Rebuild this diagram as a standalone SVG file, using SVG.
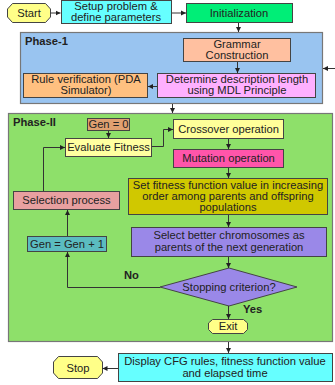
<svg xmlns="http://www.w3.org/2000/svg" width="335" height="385" viewBox="0 0 335 385">
<style>
text{font-family:"Liberation Sans",Arial,sans-serif;font-size:11.2px;fill:#222;text-anchor:middle}
.b{font-weight:bold;text-anchor:start}
.n{stroke:#444;stroke-width:1}
.ph{stroke:#777;stroke-width:1.2}
.c{fill:none;stroke:#333;stroke-width:1}
</style>
<defs>
<marker id="a" markerWidth="6" markerHeight="6" refX="5" refY="3" orient="auto" markerUnits="userSpaceOnUse">
<path d="M0,0.5 L5,3 L0,5.5 Z" fill="#222"/>
</marker>
</defs>
<rect width="335" height="385" fill="#fff"/>
<g id="phase1"><rect class="ph" x="20.5" y="32.5" width="302" height="71" fill="#99c4f0"/><text class="b" x="25" y="45">Phase-1</text></g>
<g id="phase2"><rect class="ph" x="8.5" y="113.5" width="324" height="228" fill="#8ee06a"/><text class="b" x="13" y="126">Phase-II</text></g>
<g id="start"><path class="n" d="M12.5,3.5 H45.5 L50.5,9 V17 L45.5,22.5 H12.5 L7.5,17 V9 Z" fill="#ffff88"/><text x="29" y="17">Start</text></g>
<g id="setup"><rect class="n" x="61.5" y="0.5" width="110" height="23" fill="#66ffff"/><text x="116" y="10">Setup problem &amp;</text><text x="116" y="21">define parameters</text></g>
<g id="init"><rect class="n" x="186.5" y="3.5" width="106" height="19" fill="#00ee77"/><text x="239" y="17">Initialization</text></g>
<g id="grammar"><rect class="n" x="183.5" y="38.5" width="107" height="23" fill="#ffc0a0"/><text x="237" y="48">Grammar</text><text x="237" y="59">Construction</text></g>
<g id="mdl"><rect class="n" x="157.5" y="73.5" width="158" height="24" fill="#ffb0ff"/><text x="237" y="83">Determine description length</text><text x="237" y="94">using MDL Principle</text></g>
<g id="rule"><rect class="n" x="23.5" y="73.5" width="124" height="24" fill="#ffc080"/><text x="86" y="83">Rule verification (PDA</text><text x="86" y="94">Simulator)</text></g>
<g id="gen0"><rect class="n" x="87.5" y="118.5" width="42" height="12" fill="#e0a070"/><text x="108.5" y="128">Gen = 0</text></g>
<g id="eval"><rect class="n" x="65.5" y="138.5" width="86" height="18" fill="#ffffa0"/><text x="108.5" y="151">Evaluate Fitness</text></g>
<g id="cross"><rect class="n" x="173.5" y="119.5" width="110" height="19" fill="#ffff99"/><text x="228.5" y="133">Crossover operation</text></g>
<g id="mut"><rect class="n" x="173.5" y="149.5" width="110" height="18" fill="#ff55aa"/><text x="228.5" y="162">Mutation operation</text></g>
<g id="setfit"><rect class="n" x="128.5" y="178.5" width="199" height="36" fill="#d0c800"/><text x="228" y="189">Set fitness function value in increasing</text><text x="228" y="200">order among parents and offspring</text><text x="228" y="211">populations</text></g>
<g id="select"><rect class="n" x="131.5" y="227.5" width="195" height="29" fill="#9a88e8"/><text x="229" y="239">Select better chromosomes as</text><text x="229" y="251">parents of the next generation</text></g>
<g id="stopcrit"><path class="n" d="M229,268 L297,287 L229,306 L160,287 Z" fill="#9a88e8"/><text x="229" y="291">Stopping criterion?</text></g>
<g id="exit"><path class="n" d="M212.5,319.5 H243.5 L247.5,323 V329.5 L243.5,333.5 H212.5 L208.5,329.5 V323 Z" fill="#ffff88"/><text x="228" y="330">Exit</text></g>
<g id="selproc"><rect class="n" x="13.5" y="191.5" width="106" height="18" fill="#e8a0a0"/><text x="66.5" y="204">Selection process</text></g>
<g id="genplus"><rect class="n" x="27.5" y="236.5" width="79" height="15" fill="#5bbcc0"/><text x="67" y="248">Gen = Gen + 1</text></g>
<g id="display"><rect class="n" x="118.5" y="353.5" width="214" height="28" fill="#66ffff"/><text x="225" y="365">Display CFG rules, fitness function value</text><text x="225" y="377">and elapsed time</text></g>
<g id="stop"><path class="n" d="M58.5,356.5 H97.5 L102.5,362 V373 L97.5,378.5 H58.5 L53.5,373 V362 Z" fill="#ffff88"/><text x="78" y="372">Stop</text></g>
<g id="connectors">
<path class="c" d="M50.5,13 H60.5" marker-end="url(#a)"/>
<path class="c" d="M172,13 H186" marker-end="url(#a)"/>
<path class="c" d="M238.5,23 V32" marker-end="url(#a)"/>
<path class="c" d="M237.5,62 V73" marker-end="url(#a)"/>
<path class="c" d="M157,86.5 H148" marker-end="url(#a)"/>
<path class="c" d="M335,68.5 H323" marker-end="url(#a)"/>
<path class="c" d="M172.5,104 V113" marker-end="url(#a)"/>
<path class="c" d="M108.5,131 V138" marker-end="url(#a)"/>
<path class="c" d="M152,146.5 H163.5 V129.5 H173" marker-end="url(#a)"/>
<path class="c" d="M228.5,139 V149" marker-end="url(#a)"/>
<path class="c" d="M228.5,168 V178" marker-end="url(#a)"/>
<path class="c" d="M228.5,215 V227" marker-end="url(#a)"/>
<path class="c" d="M228.5,257 V268" marker-end="url(#a)"/>
<path class="c" d="M228.5,306 V319" marker-end="url(#a)"/>
<path class="c" d="M160,287.5 H67.5 V252" marker-end="url(#a)"/>
<path class="c" d="M67.5,236 V210" marker-end="url(#a)"/>
<path class="c" d="M43.5,191 V147.5 H65" marker-end="url(#a)"/>
<path class="c" d="M228.5,342 V353" marker-end="url(#a)"/>
<path class="c" d="M118,368.5 H102.5" marker-end="url(#a)"/>
</g>
<text class="b" x="124" y="279">No</text>
<text class="b" x="243" y="313">Yes</text>
</svg>
